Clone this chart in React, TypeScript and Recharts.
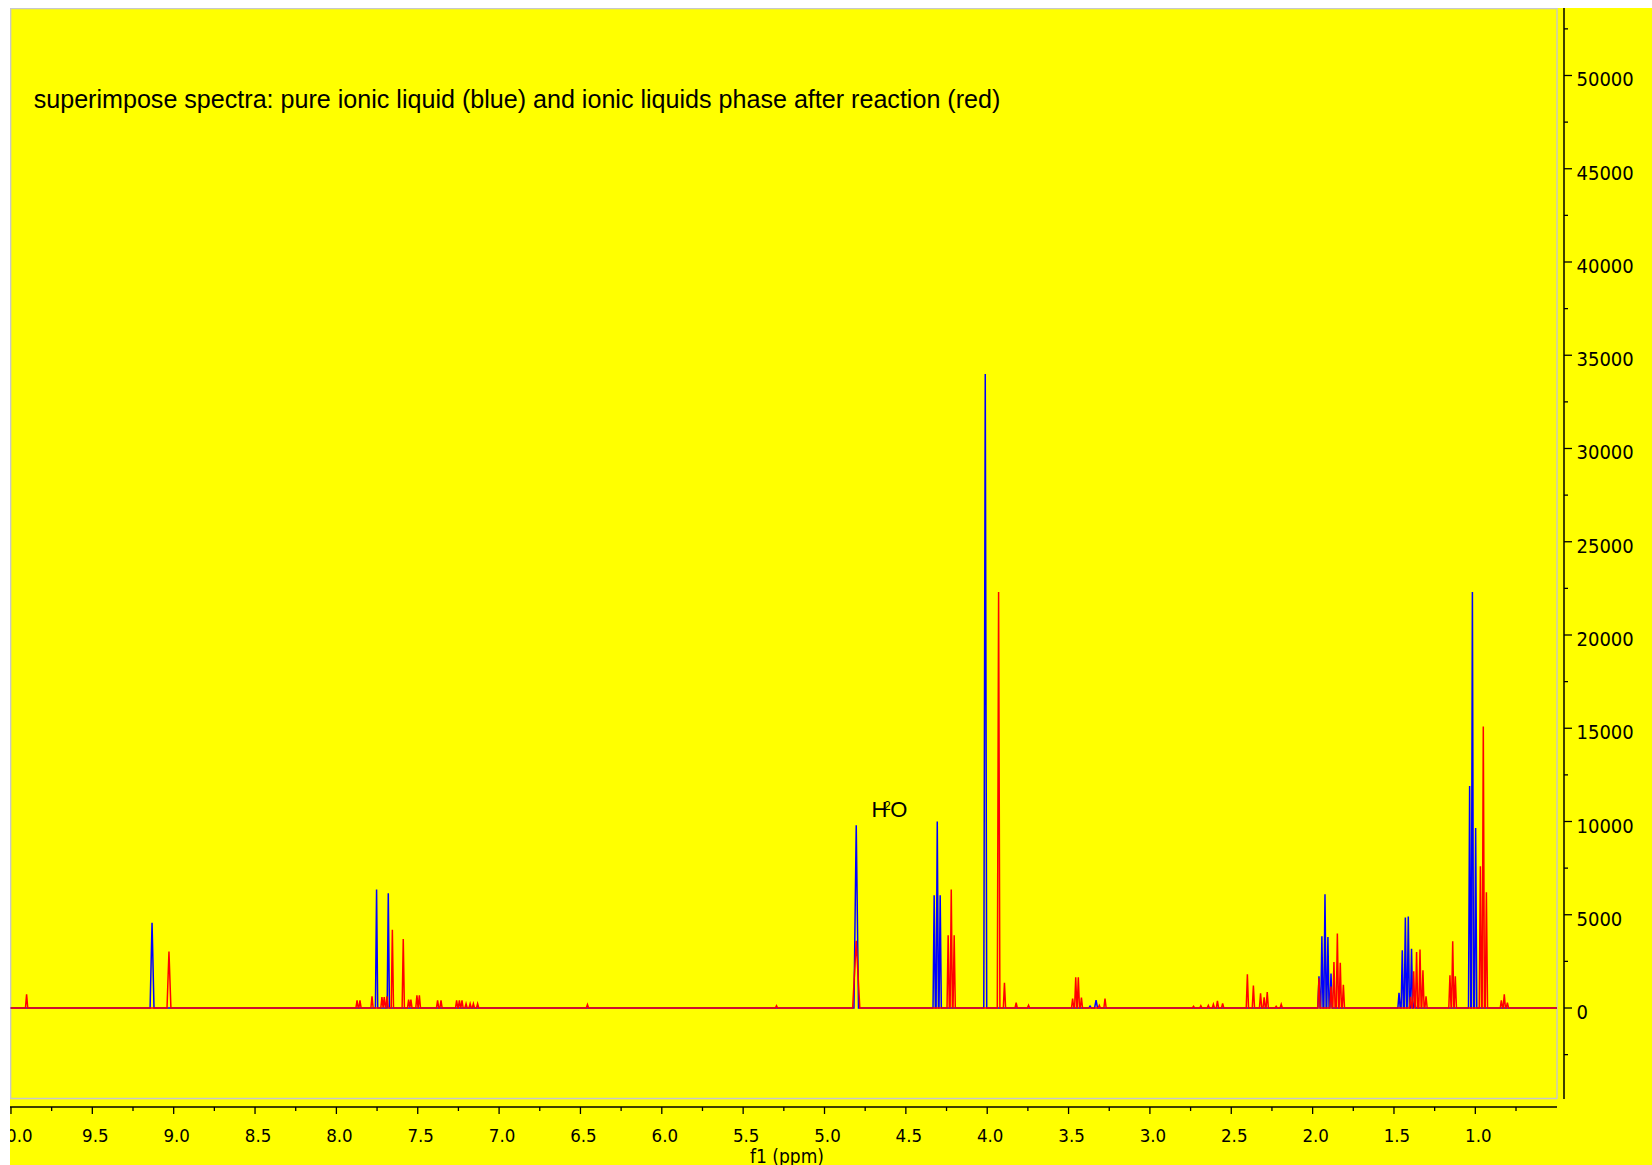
import { LineChart, Line, XAxis, YAxis, ReferenceArea, ReferenceLine, ReferenceDot } from 'recharts';

// Peak lists: [shift (ppm), intensity, optional half-width at base (ppm)]
const bluePeaks: [number, number, number?][] = [
  [9.133, 4570, 0.012],
  [7.753, 6350],
  [7.681, 6150],
  [4.805, 9800, 0.014],
  [4.326, 6050],
  [4.307, 10000],
  [4.289, 6050],
  [4.012, 34000, 0.009],
  [3.368, 100],
  [3.331, 420, 0.009],
  [1.961, 1700],
  [1.943, 3850],
  [1.924, 6100],
  [1.906, 3800],
  [1.887, 1850],
  [1.469, 820],
  [1.449, 3100],
  [1.430, 4850],
  [1.412, 4900],
  [1.392, 3180],
  [1.373, 400],
  [1.035, 11900],
  [1.018, 22300],
  [0.998, 9650],
];

const redPeaks: [number, number, number?][] = [
  [9.904, 735],
  [9.029, 3030, 0.012],
  [7.873, 410],
  [7.855, 410],
  [7.781, 625],
  [7.720, 590],
  [7.706, 590],
  [7.689, 625],
  [7.656, 4200],
  [7.589, 3700],
  [7.556, 450],
  [7.542, 450],
  [7.505, 680],
  [7.490, 680],
  [7.378, 410],
  [7.357, 410],
  [7.261, 410],
  [7.244, 410],
  [7.228, 410],
  [7.203, 230],
  [7.178, 230],
  [7.158, 230],
  [7.132, 230],
  [6.457, 180],
  [5.295, 120],
  [4.805, 3600, 0.022],
  [4.240, 3900],
  [4.221, 6350],
  [4.203, 3900],
  [3.930, 22300, 0.008],
  [3.894, 1350],
  [3.822, 280],
  [3.746, 150],
  [3.475, 500],
  [3.456, 1650],
  [3.440, 1650],
  [3.421, 560],
  [3.311, 140],
  [3.276, 500],
  [2.732, 90],
  [2.687, 120],
  [2.641, 140],
  [2.610, 200],
  [2.585, 380],
  [2.553, 250],
  [2.401, 1810],
  [2.364, 1200],
  [2.320, 790],
  [2.298, 570],
  [2.279, 860],
  [2.224, 90],
  [2.193, 200],
  [1.961, 1600],
  [1.887, 1150],
  [1.869, 2470],
  [1.848, 3990],
  [1.830, 2430],
  [1.811, 1250],
  [1.398, 600],
  [1.379, 1970],
  [1.361, 3000],
  [1.340, 3130],
  [1.322, 2020],
  [1.303, 625],
  [1.156, 1750],
  [1.139, 3580],
  [1.123, 1700],
  [0.969, 7600],
  [0.951, 15100],
  [0.932, 6200],
  [0.840, 410],
  [0.822, 730],
  [0.803, 290],
];

const xMajorTicks = [10.0, 9.5, 9.0, 8.5, 8.0, 7.5, 7.0, 6.5, 6.0, 5.5, 5.0, 4.5, 4.0, 3.5, 3.0, 2.5, 2.0, 1.5, 1.0];
const xMinorTicks = [9.75, 9.25, 8.75, 8.25, 7.75, 7.25, 6.75, 6.25, 5.75, 5.25, 4.75, 4.25, 3.75, 3.25, 2.75, 2.25, 1.75, 1.25, 0.75];
const yMajorTicks = [0, 5000, 10000, 15000, 20000, 25000, 30000, 35000, 40000, 45000, 50000];
const yMinorTicks = [-2500, 2500, 7500, 12500, 17500, 22500, 27500, 32500, 37500, 42500, 47500, 52500];

const TITLE = 'superimpose spectra: pure ionic liquid (blue) and ionic liquids phase after reaction (red)';

// axis ranges (ppm runs right to left)
const X_LEFT = 10.006;
const X_RIGHT = 0.455;
const Y_MIN = -5308;
const Y_MAX = 53619;

// plot frame and axis line extents
const FRAME_LEFT = 10.002;
const FRAME_RIGHT = 0.498;
const FRAME_BOTTOM = -4853;
const FRAME_TOP = 53592;
const Y_AXIS_BOTTOM = -4879;

const LINE_HW = 0.007;
const AXIS_FONT = "'DejaVu Sans Condensed', 'DejaVu Sans', sans-serif";

type Pt = { ppm: number; y: number };

function toTrace(peaks: [number, number, number?][]): Pt[] {
  const sorted = [...peaks].sort((a, b) => b[0] - a[0]);
  const pts: Pt[] = [{ ppm: FRAME_LEFT, y: 0 }];
  for (const [ppm, h, hw = LINE_HW] of sorted) {
    pts.push({ ppm: ppm + hw, y: 0 }, { ppm, y: h }, { ppm: ppm - hw, y: 0 });
  }
  pts.push({ ppm: FRAME_RIGHT, y: 0 });
  return pts;
}

const blueTrace = toTrace(bluePeaks);
const redTrace = toTrace(redPeaks);

function XTick(props: any) {
  const { x, y, payload } = props;
  const v = payload.value as number;
  const major = xMajorTicks.includes(v);
  return (
    <g>
      <line x1={x} x2={x} y1={y} y2={y + (major ? 7 : 4)} stroke="#000" strokeWidth={1.3} />
      {major && (
        <text x={x + 3} y={y + 35} textAnchor="middle" fontSize={18.5} fontFamily={AXIS_FONT}
          style={{ fontStretch: 'condensed' }} fill="#000">
          {v.toFixed(1)}
        </text>
      )}
    </g>
  );
}

function YTick(props: any) {
  const { x, y, payload } = props;
  const v = payload.value as number;
  const major = yMajorTicks.includes(v);
  return (
    <g>
      <line x1={x} x2={x + (major ? 8 : 4)} y1={y} y2={y} stroke="#000" strokeWidth={1.3} />
      {major && (
        <text x={x + 12.5} y={y + 11} textAnchor="start" fontSize={20} fontFamily={AXIS_FONT}
          style={{ fontStretch: 'condensed' }} fill="#000">
          {v}
        </text>
      )}
    </g>
  );
}

function WaterLabel(props: any) {
  const { x, y } = props.viewBox;
  return (
    <text x={x} y={y} fontSize={22} fontFamily="'Liberation Sans', Arial, sans-serif" fill="#000">
      <tspan>H</tspan>
      <tspan dx={-3.5} dy={-7.2} fontSize={12}>2</tspan>
      <tspan dx={-0.5} dy={7.2}>O</tspan>
    </text>
  );
}

function AxisTitle(props: any) {
  const { x, y, width, height } = props.viewBox;
  return (
    <text x={x + width / 2} y={y + height - 2.5} textAnchor="middle" fontSize={19}
      fontFamily={AXIS_FONT} style={{ fontStretch: 'condensed' }} fill="#000">
      f1 (ppm)
    </text>
  );
}

export default function App() {
  return (
    <div style={{ position: 'absolute', left: 10, top: 8, width: 1642, height: 1157, background: '#ffff00', overflow: 'hidden' }}>
      <LineChart width={1642} height={1157} margin={{ top: 0, right: 0, bottom: 0, left: 0 }}>
        <ReferenceArea x1={FRAME_LEFT} x2={FRAME_RIGHT} y1={FRAME_BOTTOM} y2={FRAME_TOP}
          fill="none" stroke="#c8c8c8" strokeWidth={1.4} ifOverflow="visible" />
        <XAxis type="number" dataKey="ppm" domain={[X_RIGHT, X_LEFT]} reversed allowDataOverflow
          ticks={[...xMajorTicks, ...xMinorTicks].sort((a, b) => b - a)} interval={0}
          tick={<XTick />} tickSize={0} tickMargin={0} tickLine={false} axisLine={false} height={58}
          label={{ content: <AxisTitle /> }} />
        <YAxis type="number" orientation="right" domain={[Y_MIN, Y_MAX]} allowDataOverflow
          ticks={[...yMinorTicks, ...yMajorTicks].sort((a, b) => a - b)} interval={0}
          tick={<YTick />} tickSize={0} tickMargin={0} tickLine={false} axisLine={false} width={88} />
        <ReferenceLine segment={[{ x: X_LEFT, y: Y_MIN }, { x: FRAME_RIGHT, y: Y_MIN }]}
          stroke="#000" strokeWidth={1.5} ifOverflow="visible" />
        <ReferenceLine segment={[{ x: X_RIGHT, y: Y_AXIS_BOTTOM }, { x: X_RIGHT, y: Y_MAX }]}
          stroke="#000" strokeWidth={1.5} ifOverflow="visible" />
        <Line data={blueTrace} dataKey="y" type="linear" stroke="#0000ff" strokeWidth={1.5}
          dot={false} activeDot={false} isAnimationActive={false} />
        <Line data={redTrace} dataKey="y" type="linear" stroke="#ff0000" strokeWidth={1.5}
          dot={false} activeDot={false} isAnimationActive={false} />
        <ReferenceDot x={4.7105} y={10237} r={0} fill="none" stroke="none" label={<WaterLabel />} />
      </LineChart>
      <div style={{ position: 'absolute', left: 23.7, top: 79, fontFamily: "'Liberation Sans', Arial, sans-serif",
        fontSize: 25.1, lineHeight: '25px', whiteSpace: 'nowrap', color: '#000', zIndex: 2 }}>
        {TITLE}
      </div>
    </div>
  );
}
